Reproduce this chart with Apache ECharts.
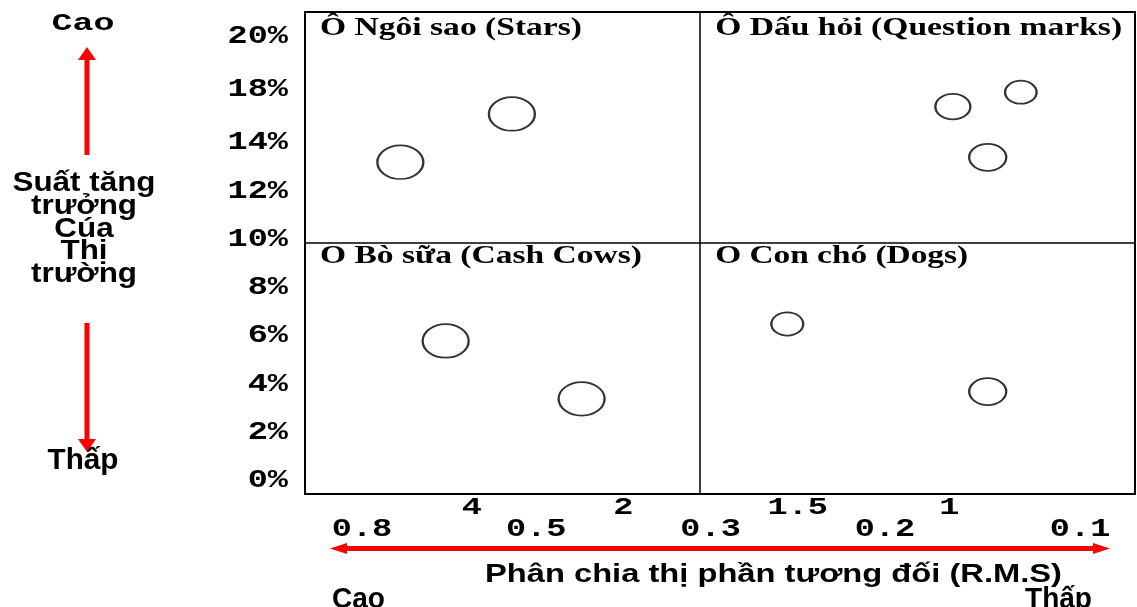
<!DOCTYPE html>
<html>
<head>
<meta charset="utf-8">
<script src="https://cdn.jsdelivr.net/npm/echarts@6/dist/echarts.min.js"></script>
<style>
  html, body { margin: 0; padding: 0; background: #fff; }
  #chart { width: 1137px; height: 607px; }
</style>
</head>
<body>
<div id="chart"></div>
<script>
// Relative market share labels: lower row sits on slots 0..4 of the share axis,
// upper row between them.
const shareLabels = ['0.8', '0.5', '0.3', '0.2', '0.1'];
const shareLabelSlots = [0, 1, 2, 3, 4.12];
const shareUpperLabels = ['4', '2', '1.5', '1'];
const shareUpperSlots = [0.63, 1.5, 2.5, 3.37];

// Market growth rate labels and where they sit on the growth axis
const growthLabels = ['0%', '2%', '4%', '6%', '8%', '10%', '12%', '14%', '18%', '20%'];
const growthLabelAt = [0, 2, 4, 6, 8, 10, 12, 14, 16.2, 18.4];

// Business units: [share slot, growth %, relative sales]
const stars = [[0.22, 13.2, 100], [0.86, 15.2, 100]];
const questionMarks = [[3.39, 15.5, 58], [3.78, 16.1, 47], [3.59, 13.4, 65]];
const cashCows = [[0.48, 5.8, 100], [1.26, 3.4, 100]];
const dogs = [[2.44, 6.5, 48], [3.59, 3.7, 65]];

// Quadrant names and the boundaries between them
const quadrantTitles = ['Ô Ngôi sao (Stars)', 'Ô Dấu hỏi (Question marks)', 'O Bò sữa (Cash Cows)', 'O Con chó (Dogs)'];
const shareSplit = 1.94;
const growthSplit = 9.85;

const shareMin = -0.327, shareMax = 4.435;
const growthMin = -0.54, growthMax = 19.42;

const chart = echarts.init(document.getElementById('chart'), null, { renderer: 'canvas', width: 1137, height: 607 });

// Bubble outline: width grows with the square root of sales, drawn as a flat ellipse
const bubbleSize = v => {
  const w = 46 * Math.sqrt(v[2] / 100);
  return [w, w * 0.73];
};

const bubbles = (name, data) => ({
  name,
  type: 'scatter',
  data,
  symbol: 'circle',
  symbolSize: bubbleSize,
  itemStyle: { color: 'rgba(255,255,255,0)', borderColor: '#000', borderWidth: 2 },
  emphasis: { disabled: true },
  silent: true,
  z: 3
});

const quadrantSeries = bubbles('Stars', stars);
quadrantSeries.markLine = {
  silent: true,
  symbol: 'none',
  label: { show: false },
  lineStyle: { color: '#000', width: 1.5, type: 'solid' },
  data: [{ xAxis: shareSplit }, { yAxis: growthSplit }]
};

chart.setOption({
  animation: false,
  backgroundColor: '#fff',
  grid: {
    left: 305, top: 12, right: 2, bottom: 113,
    show: true, borderColor: '#000', borderWidth: 2, backgroundColor: '#fff'
  },
  xAxis: { type: 'value', min: shareMin, max: shareMax, show: false },
  yAxis: { type: 'value', min: growthMin, max: growthMax, show: false },
  series: [
    quadrantSeries,
    bubbles('Question marks', questionMarks),
    bubbles('Cash Cows', cashCows),
    bubbles('Dogs', dogs)
  ]
});

// ---- text and arrows ----
const measureCtx = document.createElement('canvas').getContext('2d');
const textWidth = (text, font) => { measureCtx.font = font; return measureCtx.measureText(text).width; };
const fitScale = (text, font, width) => width / textWidth(text, font);

const text = (str, x, y, font, scaleX, align, scaleY) => ({
  type: 'text', x, y, scaleX: scaleX || 1, scaleY: scaleY || 1, silent: true, z: 10,
  style: {
    text: str, font, fill: '#000',
    align: align || 'center', verticalAlign: 'middle',
    textAlign: align || 'center', textVerticalAlign: 'middle'
  }
});

const toPx = (x, y) => chart.convertToPixel({ gridIndex: 0 }, [x, y]);
const [gridLeft, gridTop] = toPx(shareMin, growthMax);
const [gridRight, gridBottom] = toPx(shareMax, growthMin);
const [splitX, splitY] = toPx(shareSplit, growthSplit);

const monoFont = 'bold 24px "Liberation Mono"';
const monoScale = 1.4;
const titleFont = 'bold 25px "Liberation Serif"';
const sansFont = 'bold 24px "Liberation Sans"';
const tall = 1.18;

const g = [];

// growth rate tick labels
growthLabels.forEach((lab, i) => {
  const y = toPx(0, growthLabelAt[i])[1];
  g.push(text(lab, gridLeft - 17, y, monoFont, monoScale, 'right', 1.05));
});
// relative market share tick labels (two rows)
shareLabels.forEach((lab, i) => {
  const x = toPx(shareLabelSlots[i], 0)[0];
  g.push(text(lab, x, gridBottom + 36, monoFont, monoScale, 'center', 1.05));
});
shareUpperLabels.forEach((lab, i) => {
  const x = toPx(shareUpperSlots[i], 0)[0];
  g.push(text(lab, x, gridBottom + 14, monoFont, monoScale, 'center', 1.0));
});

// quadrant titles
const titleWidths = [262, 407, 322, 253];
const titlePos = [
  [gridLeft + 15, gridTop + 17], [splitX + 15, gridTop + 17],
  [gridLeft + 15, splitY + 13], [splitX + 15, splitY + 13]
];
quadrantTitles.forEach((t, i) => {
  g.push(text(t, titlePos[i][0], titlePos[i][1], titleFont, fitScale(t, titleFont, titleWidths[i]), 'left'));
});

// vertical axis caption
const capLines = ['Suất tăng', 'trưởng', 'Cúa', 'Thị', 'trường'];
const capScale = fitScale('Suất tăng', sansFont, 143);
const capY = [183, 206, 229, 251, 274];
capLines.forEach((l, i) => g.push(text(l, 84, capY[i], sansFont, capScale, 'center', tall)));

const caoFont = 'bold 22px "Liberation Mono"';
g.push(text('Cao', 83, 24, caoFont, fitScale('Cao', caoFont, 63), 'center', 1.05));
const lowFont = 'bold 25px "Liberation Sans"';
g.push(text('Thấp', 83, 461, lowFont, fitScale('Thấp', lowFont, 71), 'center', tall));

// horizontal axis caption
const axisFont = 'bold 20px "Liberation Sans"';
const axisTitle = 'Phân chia thị phần tương đối (R.M.S)';
g.push(text(axisTitle, 485, 575, axisFont, fitScale(axisTitle, axisFont, 577), 'left', 1.25));
g.push(text('Cao', 332, 600, lowFont, fitScale('Cao', lowFont, 53), 'left', tall));
g.push(text('Thấp', 1025, 600, lowFont, fitScale('Thấp', lowFont, 67), 'left', tall));

// red arrows
const red = '#ff0000';
const bar = (x, y, w, h) => ({ type: 'rect', silent: true, z: 5, shape: { x, y, width: w, height: h }, style: { fill: red } });
const tri = pts => ({ type: 'polygon', silent: true, z: 5, shape: { points: pts }, style: { fill: red } });

g.push(bar(84.5, 59, 5, 96), tri([[78, 60], [96, 60], [87, 47]]));
g.push(bar(84.5, 323, 5, 117), tri([[78, 439], [96, 439], [87, 452]]));
g.push(bar(346, 546, 748, 5), tri([[347, 543], [347, 554], [330, 548.5]]), tri([[1093, 543], [1093, 554], [1110, 548.5]]));

chart.setOption({ graphic: g });
</script>
</body>
</html>
